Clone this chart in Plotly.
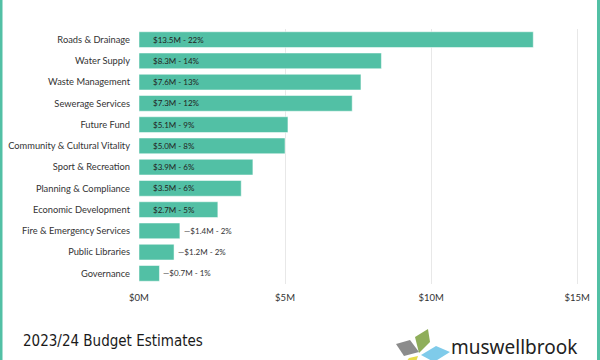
import plotly.graph_objects as go

categories = ["Roads & Drainage", "Water Supply", "Waste Management", "Sewerage Services",
              "Future Fund", "Community & Cultural Vitality", "Sport & Recreation",
              "Planning & Compliance", "Economic Development", "Fire & Emergency Services",
              "Public Libraries", "Governance"]
values = [13.5, 8.3, 7.6, 7.3, 5.1, 5.0, 3.9, 3.5, 2.7, 1.4, 1.2, 0.7]
percents = [22, 14, 13, 12, 9, 8, 6, 6, 5, 2, 2, 1]
tick_vals = [0, 5, 10, 15]
tick_text = ["$0M", "$5M", "$10M", "$15M"]
title_text = "2023/24 Budget Estimates"
brand_text = "muswellbrook"

W, H = 600, 360
L, R, T, B = 139, 580, 29, 284
TEAL = "#52c0a5"

def px(x):
    return (x - L) / (R - L)

def py(y):
    return (B - y) / (B - T)

fig = go.Figure()
fig.add_trace(go.Bar(
    x=values, y=categories, orientation="h",
    marker=dict(color=TEAL, line=dict(color="#ffffff", width=0.5)),
    hoverinfo="skip",
))

annotations = []
for c, v, p in zip(categories, values, percents):
    label = f"${v:.1f}M - {p}%"
    if v >= 2.5:
        annotations.append(dict(x=0, y=c, xref="x", yref="y", text=label, showarrow=False,
                                xanchor="left", xshift=12, font=dict(size=8, color="#222222", family="Lato")))
    else:
        annotations.append(dict(x=v, y=c, xref="x", yref="y", text="\u2014" + label, showarrow=False,
                                xanchor="left", xshift=2, font=dict(size=8, color="#333333", family="Lato")))

annotations.append(dict(x=px(21), y=py(341), xref="paper", yref="paper", text=title_text,
                        showarrow=False, xanchor="left", yanchor="middle",
                        font=dict(size=15, color="#1a1a1a", family="Liberation Sans Narrow, DejaVu Sans Condensed")))
annotations.append(dict(x=px(449), y=py(347), xref="paper", yref="paper", text=brand_text,
                        showarrow=False, xanchor="left", yanchor="middle",
                        font=dict(size=19, color="#222222", family="Noto Sans")))

def poly(pts, color):
    d = "M " + " L ".join(f"{px(a):.4f},{py(b):.4f}" for a, b in pts) + " Z"
    return dict(type="path", xref="paper", yref="paper", path=d, fillcolor=color,
                line=dict(width=0), layer="above")

shapes = [
    dict(type="rect", xref="paper", yref="paper", x0=px(0), x1=px(2.5), y0=py(H), y1=py(0),
         fillcolor=TEAL, line=dict(width=0)),
    dict(type="rect", xref="paper", yref="paper", x0=px(597), x1=px(600), y0=py(H), y1=py(0),
         fillcolor=TEAL, line=dict(width=0)),
    poly([(396, 344), (410, 340), (419, 352), (404, 356)], "#8c8c8c"),
    poly([(415, 337), (428, 329), (430, 342), (419, 353)], "#8fae5a"),
    poly([(421, 355), (436, 346), (450, 352), (434, 362)], "#7fcbea"),
    poly([(406, 362), (409, 358), (418, 356), (416, 362)], "#e6dc4a"),
]

fig.update_layout(
    width=W, height=H,
    margin=dict(l=L, r=W - R, t=T, b=H - B),
    paper_bgcolor="white", plot_bgcolor="white",
    showlegend=False, bargap=0.26,
    font=dict(family="Lato", color="#333333"),
    xaxis=dict(range=[0, 15.1], tickvals=tick_vals, ticktext=tick_text, automargin=False,
               showgrid=True, gridcolor="#e8e8e8", gridwidth=1, zeroline=False,
               tickfont=dict(size=9.5, color="#333333"), ticks="", showline=False,
               ticklabelstandoff=6),
    yaxis=dict(autorange="reversed", tickfont=dict(size=9.3, color="#333333"), automargin=False,
               ticks="", showgrid=False, ticklabelstandoff=8),
    annotations=annotations, shapes=shapes,
)

fig.write_html("out.html", config={"displayModeBar": False},
               post_script="document.body.style.margin='0';document.body.style.overflow='hidden';")
